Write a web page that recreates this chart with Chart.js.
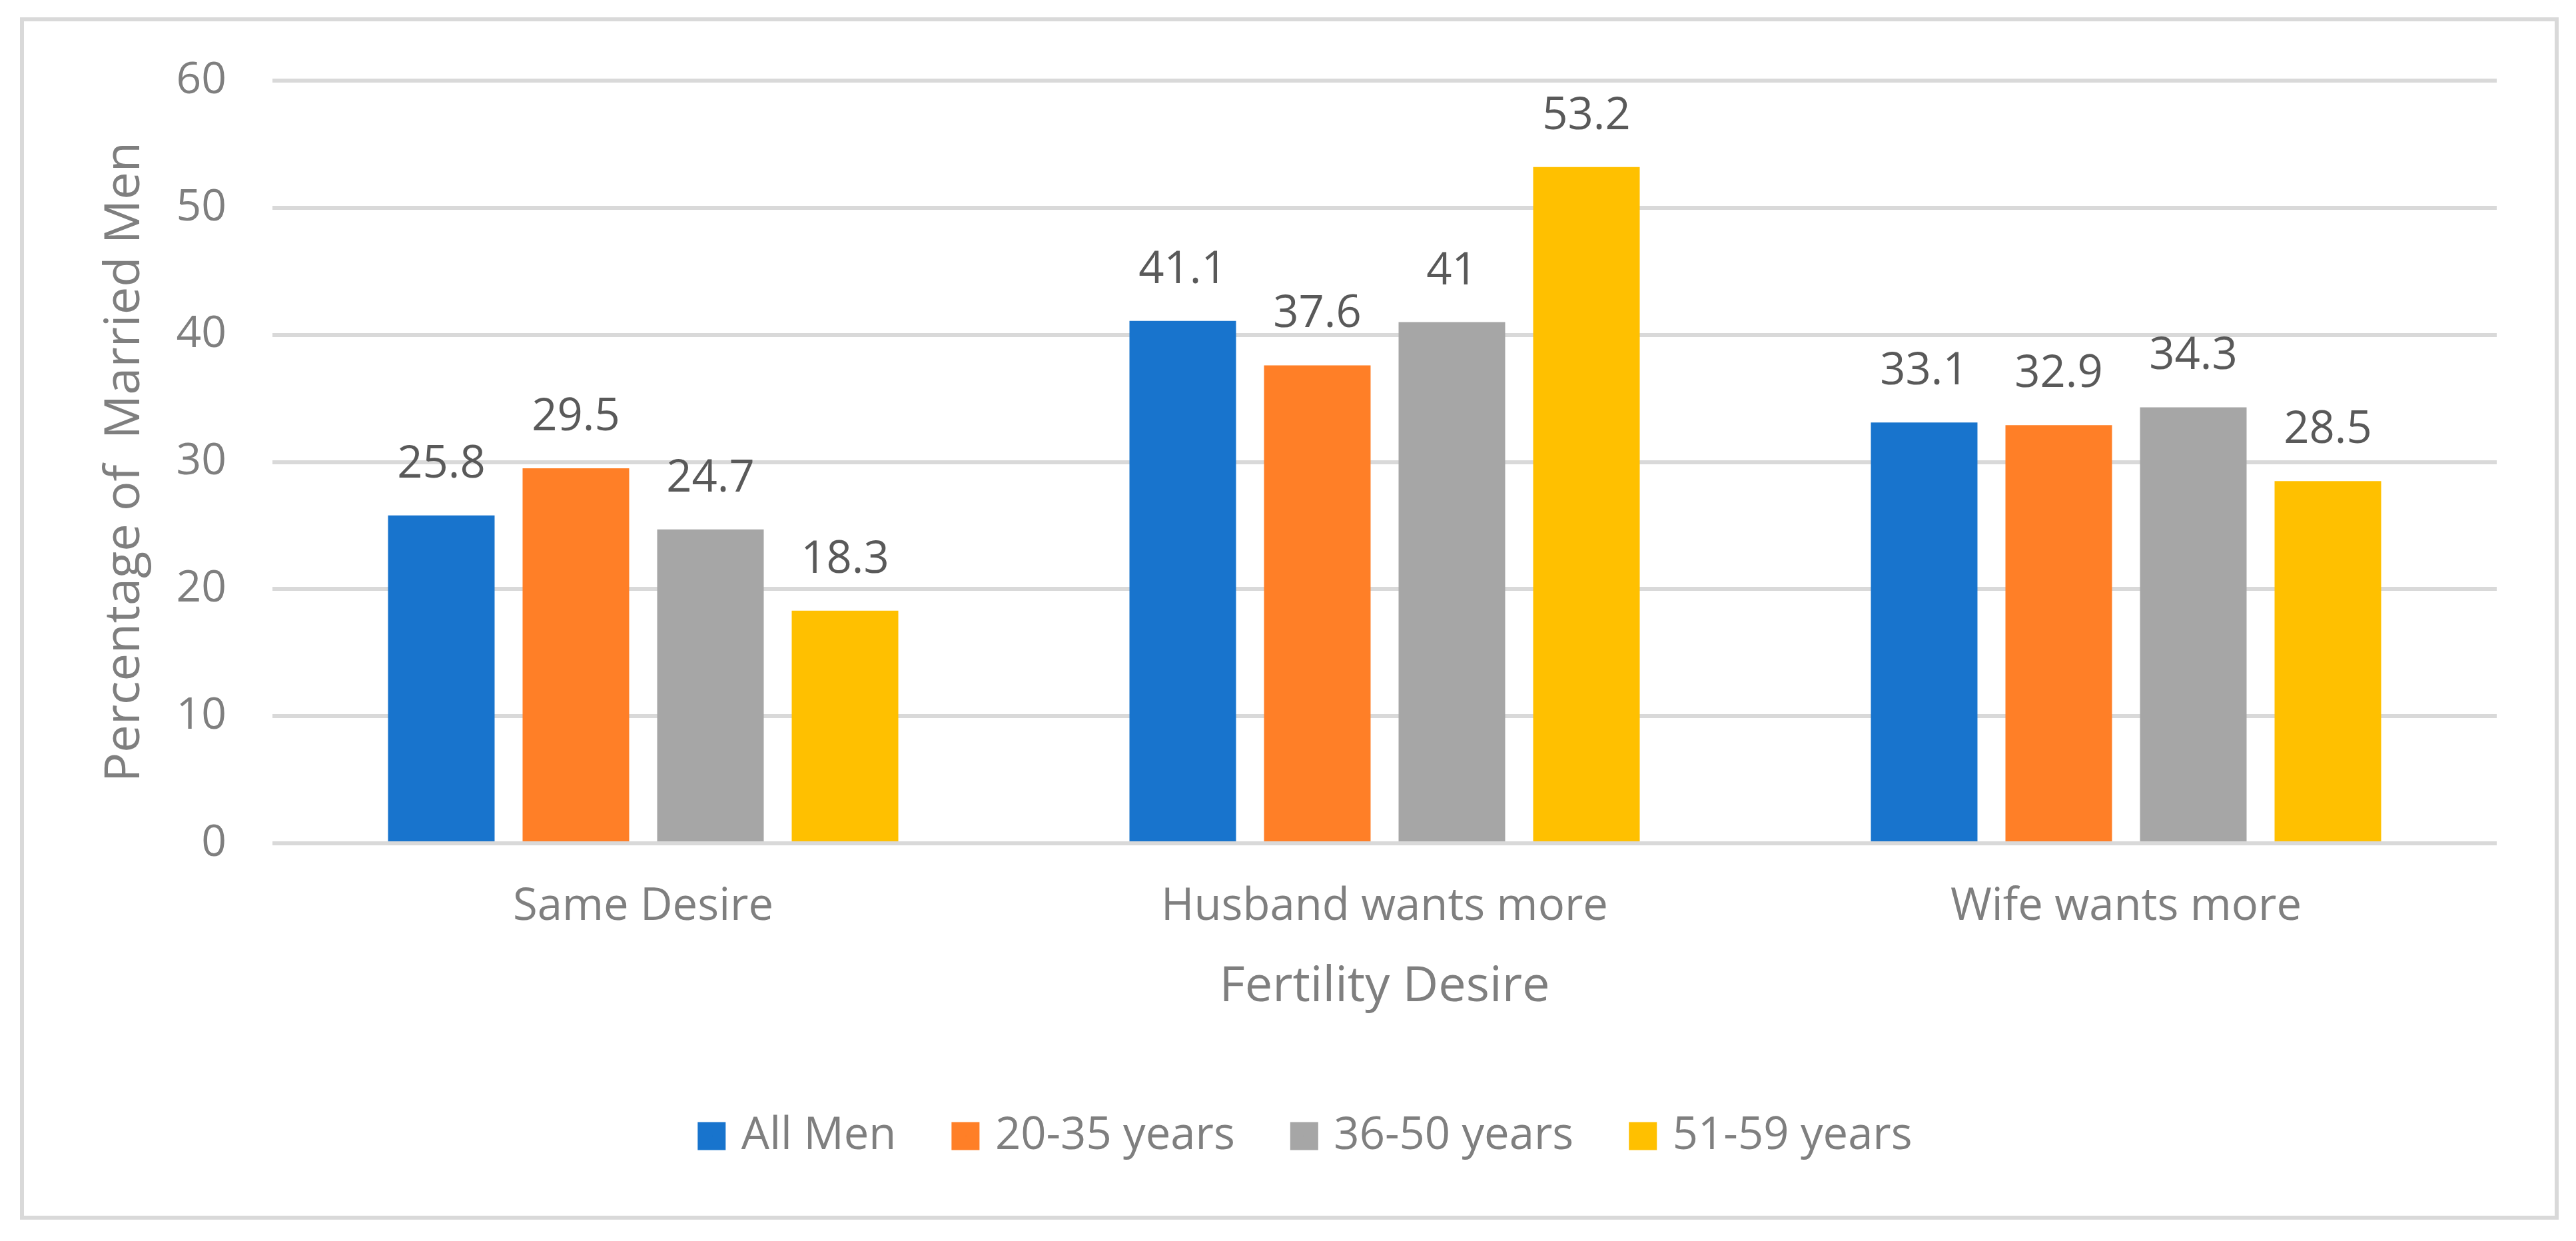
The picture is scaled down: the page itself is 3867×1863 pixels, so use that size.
<!DOCTYPE html>
<html>
<head>
<meta charset="utf-8">
<title>Fertility Desire</title>
<script src="https://cdn.jsdelivr.net/npm/chart.js@4.4.1/dist/chart.umd.min.js"></script>
<style>
  html, body { margin: 0; padding: 0; background: #ffffff; }
  #wrap { position: relative; width: 3867px; height: 1863px; }
</style>
</head>
<body>
<div id="wrap"><canvas id="barChart"></canvas></div>
<script>
// datos del grafico
const categorias = ["Same Desire", "Husband wants more", "Wife wants more"];
const grupos = ["All Men", "20-35 years", "36-50 years", "51-59 years"];
const allMen = [25.8, 41.1, 33.1];
const anos20a35 = [29.5, 37.6, 32.9];
const anos36a50 = [24.7, 41, 34.3];
const anos51a59 = [18.3, 53.2, 28.5];
const colores = ["#1874CD", "#FF7F27", "#A6A6A6", "#FFC000"];
const yTicks = [0, 10, 20, 30, 40, 50, 60];

const gris = "#7F7F7F";
const fuente = "'Open Sans', 'DejaVu Sans', sans-serif";

// marco gris alrededor del grafico
const marco = {
  id: "marco",
  beforeDraw(chart) {
    const ctx = chart.ctx;
    ctx.save();
    ctx.fillStyle = "#ffffff";
    ctx.fillRect(0, 0, chart.width, chart.height);
    ctx.strokeStyle = "#D9D9D9";
    ctx.lineWidth = 6;
    ctx.strokeRect(33, 29, 3805, 1799);
    ctx.restore();
  }
};

// etiquetas de valor encima de cada barra
const etiquetas = {
  id: "etiquetas",
  afterDatasetsDraw(chart) {
    const ctx = chart.ctx;
    ctx.save();
    ctx.font = "67px " + fuente;
    ctx.fillStyle = "#595959";
    ctx.textAlign = "center";
    ctx.textBaseline = "alphabetic";
    chart.data.datasets.forEach((ds, i) => {
      chart.getDatasetMeta(i).data.forEach((bar, j) => {
        ctx.fillText(String(ds.data[j]), bar.x, bar.y - 57);
      });
    });
    ctx.restore();
  }
};

const series = [allMen, anos20a35, anos36a50, anos51a59];

new Chart(document.getElementById("barChart"), {
  type: "bar",
  data: {
    labels: categorias,
    datasets: series.map((d, i) => ({
      label: grupos[i],
      data: d,
      backgroundColor: colores[i],
      borderWidth: 0,
      categoryPercentage: 0.726,
      barPercentage: 0.792
    }))
  },
  options: {
    responsive: true,
    maintainAspectRatio: false,
    animation: false,
    layout: { padding: { left: 180, right: 119, top: 121, bottom: 114 } },
    plugins: {
      tooltip: { enabled: false },
      legend: {
        position: "bottom",
        labels: {
          color: gris,
          font: { family: fuente, size: 67, lineHeight: 1 },
          boxWidth: 22,
          boxHeight: 22,
          padding: 93,
          generateLabels(chart) {
            const items = Chart.defaults.plugins.legend.labels.generateLabels(chart);
            items.forEach(it => {
              it.strokeStyle = it.fillStyle;
              it.lineWidth = 20;
            });
            return items;
          }
        }
      }
    },
    scales: {
      x: {
        grid: { display: false, drawTicks: false },
        border: { display: false },
        ticks: {
          color: gris,
          font: { family: fuente, size: 67, lineHeight: 1 },
          padding: 62,
          maxRotation: 0,
          autoSkip: false
        },
        title: {
          display: true,
          text: "Fertility Desire",
          color: gris,
          font: { family: fuente, size: 74, lineHeight: 1 },
          padding: { top: 0, bottom: 60 }
        },
        afterFit(scale) { scale.height = 313; }
      },
      y: {
        min: 0,
        max: 60,
        afterBuildTicks(scale) { scale.ticks = yTicks.map(v => ({ value: v })); },
        grid: { color: "#D9D9D9", lineWidth: 6, drawTicks: false },
        border: { display: false },
        ticks: {
          color: gris,
          font: { family: fuente, size: 66, lineHeight: 1 },
          padding: 69
        },
        title: {
          display: true,
          text: "Percentage of  Married Men",
          color: gris,
          font: { family: fuente, size: 74, lineHeight: 0.22 },
          padding: { top: 0, bottom: 0 }
        },
        afterFit(scale) { scale.width = 229; }
      }
    }
  },
  plugins: [marco, etiquetas]
});
</script>
</body>
</html>
